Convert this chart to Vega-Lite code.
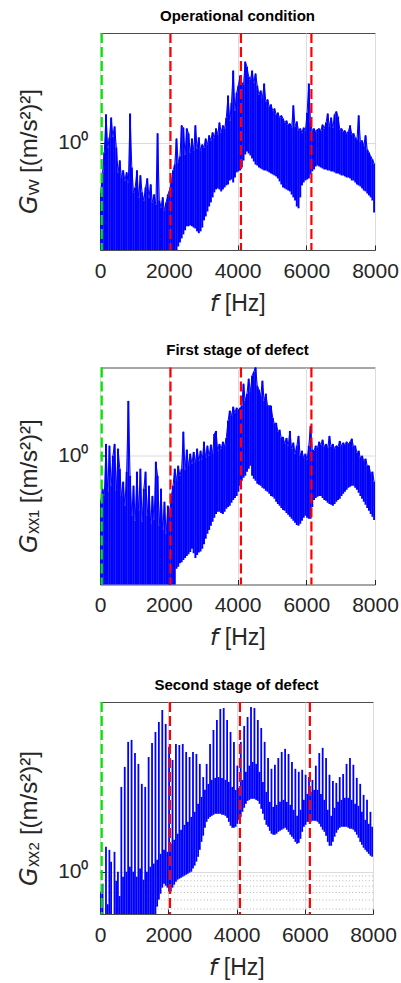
{
  "$schema": "https://vega.github.io/schema/vega-lite/v6.json",
  "background": "white",
  "padding": {"left": 16, "top": 8, "right": 0, "bottom": 0},
  "bounds": "flush",
  "spacing": 117.5,
  "config": {
    "font": "Liberation Sans",
    "view": {"stroke": "#4d4d4d", "strokeWidth": 1},
    "axis": {
      "labelFont": "Liberation Sans", "titleFont": "Liberation Sans",
      "labelFontSize": 21, "titleFontSize": 23, "titleFontWeight": "normal",
      "labelColor": "#262626", "titleColor": "#262626",
      "domain": false, "grid": true, "gridColor": "#dcdcdc", "gridWidth": 1,
      "tickColor": "#262626", "tickSize": -5, "labelPadding": 15,
      "labelFlush": false, "labelOverlap": false, "labelBound": false
    },
    "axisX": {"format": "d", "titleBaseline": "alphabetic", "titleY": 60},
    "axisY": {"titleFontSize": 24, "titleBaseline": "alphabetic", "titleAngle": -90, "titleAlign": "center", "titleX": -64},
    "title": {"font": "Liberation Sans", "fontSize": 15, "fontWeight": "bold", "color": "#000000", "frame": "group", "anchor": "middle", "offset": 8}
  },
  "datasets": {
    "spec": [
{"p":1,"f":25,"l":0.05,"h":0.294},{"p":1,"f":75,"l":0.05,"h":0.48},{"p":1,"f":125,"l":0.05,"h":0.783},{"p":1,"f":175,"l":0.05,"h":1.99},{"p":1,"f":225,"l":0.05,"h":0.885},{"p":1,"f":275,"l":0.05,"h":1.13},{"p":1,"f":325,"l":0.05,"h":1.84},{"p":1,"f":375,"l":0.05,"h":1.16},{"p":1,"f":425,"l":0.05,"h":1.48},{"p":1,"f":475,"l":0.05,"h":0.885},
{"p":1,"f":525,"l":0.05,"h":0.48},{"p":1,"f":575,"l":0.05,"h":0.643},{"p":1,"f":625,"l":0.05,"h":0.424},{"p":1,"f":675,"l":0.05,"h":0.504},{"p":1,"f":725,"l":0.05,"h":0.394},{"p":1,"f":775,"l":0.05,"h":0.48},{"p":1,"f":825,"l":0.05,"h":0.375},{"p":1,"f":875,"l":0.05,"h":2.03},{"p":1,"f":925,"l":0.05,"h":0.542},{"p":1,"f":975,"l":0.05,"h":0.294},
{"p":1,"f":1025,"l":0.05,"h":0.332},{"p":1,"f":1075,"l":0.05,"h":0.504},{"p":1,"f":1125,"l":0.05,"h":0.26},{"p":1,"f":1175,"l":0.05,"h":0.446},{"p":1,"f":1225,"l":0.05,"h":0.294},{"p":1,"f":1275,"l":0.05,"h":0.241},{"p":1,"f":1325,"l":0.05,"h":0.332},{"p":1,"f":1375,"l":0.05,"h":0.414},{"p":1,"f":1425,"l":0.05,"h":0.26},{"p":1,"f":1475,"l":0.05,"h":0.357},
{"p":1,"f":1525,"l":0.05,"h":0.23},{"p":1,"f":1575,"l":0.05,"h":0.279},{"p":1,"f":1625,"l":0.05,"h":0.219},{"p":1,"f":1675,"l":0.05,"h":1.25},{"p":1,"f":1725,"l":0.05,"h":0.241},{"p":1,"f":1775,"l":0.05,"h":0.204},{"p":1,"f":1825,"l":0.05,"h":0.26},{"p":1,"f":1875,"l":0.05,"h":0.189},{"p":1,"f":1925,"l":0.05,"h":0.23},{"p":1,"f":1975,"l":0.05,"h":0.279},
{"p":1,"f":2025,"l":0.05,"h":0.308},{"p":1,"f":2075,"l":0.05,"h":0.375},{"p":1,"f":2125,"l":0.05,"h":0.504},{"p":1,"f":2175,"l":0.05,"h":0.583},{"p":1,"f":2225,"l":0.05,"h":1.1},{"p":1,"f":2275,"l":0.078,"h":0.613},{"p":1,"f":2325,"l":0.086,"h":0.71},{"p":1,"f":2375,"l":0.095,"h":1.52},{"p":1,"f":2425,"l":0.105,"h":1.44},{"p":1,"f":2475,"l":0.116,"h":0.745},
{"p":1,"f":2525,"l":0.128,"h":1.41},{"p":1,"f":2575,"l":0.128,"h":1.25},{"p":1,"f":2625,"l":0.131,"h":0.783},{"p":1,"f":2675,"l":0.128,"h":1.1},{"p":1,"f":2725,"l":0.124,"h":0.822},{"p":1,"f":2775,"l":0.121,"h":1.52},{"p":1,"f":2825,"l":0.113,"h":0.863},{"p":1,"f":2875,"l":0.108,"h":1.13},{"p":1,"f":2925,"l":0.113,"h":0.822},{"p":1,"f":2975,"l":0.124,"h":0.952},
{"p":1,"f":3025,"l":0.148,"h":0.885},{"p":1,"f":3075,"l":0.163,"h":1.1},{"p":1,"f":3125,"l":0.184,"h":0.952},{"p":1,"f":3175,"l":0.208,"h":1.19},{"p":1,"f":3225,"l":0.23,"h":1.05},{"p":1,"f":3275,"l":0.26,"h":1.28},{"p":1,"f":3325,"l":0.294,"h":1.13},{"p":1,"f":3375,"l":0.316,"h":1.41},{"p":1,"f":3425,"l":0.324,"h":1.22},{"p":1,"f":3475,"l":0.316,"h":1.63},
{"p":1,"f":3525,"l":0.301,"h":1.28},{"p":1,"f":3575,"l":0.316,"h":1.52},{"p":1,"f":3625,"l":0.332,"h":1.41},{"p":1,"f":3675,"l":0.349,"h":1.84},{"p":1,"f":3725,"l":0.357,"h":3.16},{"p":1,"f":3775,"l":0.394,"h":1.71},{"p":1,"f":3825,"l":0.404,"h":2.66},{"p":1,"f":3875,"l":0.375,"h":5.83},{"p":1,"f":3925,"l":0.424,"h":2.19},{"p":1,"f":3975,"l":0.48,"h":3.4},
{"p":1,"f":4025,"l":0.492,"h":4.04},{"p":1,"f":4075,"l":0.504,"h":5.16},{"p":1,"f":4125,"l":0.542,"h":4.35},{"p":1,"f":4175,"l":0.643,"h":4.14},{"p":1,"f":4225,"l":0.745,"h":7.27},{"p":1,"f":4275,"l":0.802,"h":6.43},{"p":1,"f":4325,"l":0.764,"h":5.04},{"p":1,"f":4375,"l":0.727,"h":4.68},{"p":1,"f":4425,"l":0.676,"h":5.83},{"p":1,"f":4475,"l":0.628,"h":4.35},
{"p":1,"f":4525,"l":0.583,"h":5.42},{"p":1,"f":4575,"l":0.569,"h":4.04},{"p":1,"f":4625,"l":0.542,"h":3.24},{"p":1,"f":4675,"l":0.529,"h":3.57},{"p":1,"f":4725,"l":0.516,"h":3.01},{"p":1,"f":4775,"l":0.504,"h":4.24},{"p":1,"f":4825,"l":0.504,"h":2.73},{"p":1,"f":4875,"l":0.492,"h":2.87},{"p":1,"f":4925,"l":0.48,"h":2.42},{"p":1,"f":4975,"l":0.468,"h":2.54},
{"p":1,"f":5025,"l":0.457,"h":2.19},{"p":1,"f":5075,"l":0.446,"h":2.3},{"p":1,"f":5125,"l":0.435,"h":1.99},{"p":1,"f":5175,"l":0.414,"h":2.08},{"p":1,"f":5225,"l":0.385,"h":1.84},{"p":1,"f":5275,"l":0.357,"h":1.94},{"p":1,"f":5325,"l":0.332,"h":1.8},{"p":1,"f":5375,"l":0.324,"h":1.63},{"p":1,"f":5425,"l":0.316,"h":1.71},{"p":1,"f":5475,"l":0.308,"h":1.55},
{"p":1,"f":5525,"l":0.301,"h":1.59},{"p":1,"f":5575,"l":0.279,"h":1.44},{"p":1,"f":5625,"l":0.26,"h":2.48},{"p":1,"f":5675,"l":0.241,"h":1.48},{"p":1,"f":5725,"l":0.208,"h":1.67},{"p":1,"f":5775,"l":0.199,"h":1.34},{"p":1,"f":5825,"l":0.26,"h":1.41},{"p":1,"f":5875,"l":0.349,"h":1.28},{"p":1,"f":5925,"l":0.375,"h":1.44},{"p":1,"f":5975,"l":0.394,"h":1.34},
{"p":1,"f":6025,"l":0.404,"h":2.08},{"p":1,"f":6075,"l":0.414,"h":4.24},{"p":1,"f":6125,"l":0.457,"h":1.63},{"p":1,"f":6175,"l":0.492,"h":1.34},{"p":1,"f":6225,"l":0.516,"h":1.41},{"p":1,"f":6275,"l":0.555,"h":1.31},{"p":1,"f":6325,"l":0.569,"h":1.38},{"p":1,"f":6375,"l":0.555,"h":1.41},{"p":1,"f":6425,"l":0.542,"h":1.34},{"p":1,"f":6475,"l":0.529,"h":1.55},
{"p":1,"f":6525,"l":0.516,"h":1.41},{"p":1,"f":6575,"l":0.516,"h":1.63},{"p":1,"f":6625,"l":0.504,"h":2.03},{"p":1,"f":6675,"l":0.504,"h":1.48},{"p":1,"f":6725,"l":0.492,"h":1.84},{"p":1,"f":6775,"l":0.492,"h":1.44},{"p":1,"f":6825,"l":0.48,"h":1.99},{"p":1,"f":6875,"l":0.468,"h":2.14},{"p":1,"f":6925,"l":0.468,"h":1.89},{"p":1,"f":6975,"l":0.457,"h":1.38},
{"p":1,"f":7025,"l":0.446,"h":1.41},{"p":1,"f":7075,"l":0.446,"h":1.31},{"p":1,"f":7125,"l":0.435,"h":1.34},{"p":1,"f":7175,"l":0.424,"h":1.25},{"p":1,"f":7225,"l":0.424,"h":1.31},{"p":1,"f":7275,"l":0.414,"h":1.52},{"p":1,"f":7325,"l":0.394,"h":1.22},{"p":1,"f":7375,"l":0.394,"h":1.25},{"p":1,"f":7425,"l":0.375,"h":1.13},{"p":1,"f":7475,"l":0.357,"h":1.08},
{"p":1,"f":7525,"l":0.349,"h":1.94},{"p":1,"f":7575,"l":0.34,"h":1.02},{"p":1,"f":7625,"l":0.324,"h":1.05},{"p":1,"f":7675,"l":0.308,"h":0.929},{"p":1,"f":7725,"l":0.301,"h":1.19},{"p":1,"f":7775,"l":0.286,"h":0.842},{"p":1,"f":7825,"l":0.273,"h":0.783},{"p":1,"f":7875,"l":0.26,"h":0.71},{"p":1,"f":7925,"l":0.241,"h":0.66},{"p":1,"f":7975,"l":0.18,"h":0.598},
{"p":2,"f":25,"l":0.02,"h":0.332},{"p":2,"f":75,"l":0.02,"h":0.446},{"p":2,"f":125,"l":0.02,"h":0.375},{"p":2,"f":175,"l":0.02,"h":1.34},{"p":2,"f":225,"l":0.02,"h":0.414},{"p":2,"f":275,"l":0.02,"h":1.28},{"p":2,"f":325,"l":0.02,"h":0.48},{"p":2,"f":375,"l":0.02,"h":1.0},{"p":2,"f":425,"l":0.02,"h":1.34},{"p":2,"f":475,"l":0.02,"h":0.424},
{"p":2,"f":525,"l":0.02,"h":1.19},{"p":2,"f":575,"l":0.02,"h":0.727},{"p":2,"f":625,"l":0.02,"h":0.375},{"p":2,"f":675,"l":0.02,"h":0.529},{"p":2,"f":725,"l":0.02,"h":0.294},{"p":2,"f":775,"l":0.02,"h":0.676},{"p":2,"f":825,"l":0.02,"h":3.84},{"p":2,"f":875,"l":0.02,"h":0.613},{"p":2,"f":925,"l":0.02,"h":0.23},{"p":2,"f":975,"l":0.02,"h":0.48},
{"p":2,"f":1025,"l":0.02,"h":0.204},{"p":2,"f":1075,"l":0.02,"h":0.676},{"p":2,"f":1125,"l":0.02,"h":0.26},{"p":2,"f":1175,"l":0.02,"h":0.727},{"p":2,"f":1225,"l":0.02,"h":0.199},{"p":2,"f":1275,"l":0.02,"h":0.446},{"p":2,"f":1325,"l":0.02,"h":0.676},{"p":2,"f":1375,"l":0.02,"h":0.23},{"p":2,"f":1425,"l":0.02,"h":0.48},{"p":2,"f":1475,"l":0.02,"h":0.189},
{"p":2,"f":1525,"l":0.02,"h":0.375},{"p":2,"f":1575,"l":0.02,"h":0.208},{"p":2,"f":1625,"l":0.02,"h":0.863},{"p":2,"f":1675,"l":0.02,"h":0.613},{"p":2,"f":1725,"l":0.02,"h":0.18},{"p":2,"f":1775,"l":0.02,"h":0.446},{"p":2,"f":1825,"l":0.02,"h":0.163},{"p":2,"f":1875,"l":0.02,"h":0.324},{"p":2,"f":1925,"l":0.02,"h":0.148},{"p":2,"f":1975,"l":0.02,"h":0.294},
{"p":2,"f":2025,"l":0.02,"h":0.23},{"p":2,"f":2075,"l":0.02,"h":0.375},{"p":2,"f":2125,"l":0.02,"h":0.48},{"p":2,"f":2175,"l":0.02,"h":0.727},{"p":2,"f":2225,"l":0.063,"h":0.542},{"p":2,"f":2275,"l":0.066,"h":0.783},{"p":2,"f":2325,"l":0.072,"h":0.613},{"p":2,"f":2375,"l":0.074,"h":0.727},{"p":2,"f":2425,"l":0.078,"h":1.8},{"p":2,"f":2475,"l":0.082,"h":0.71},
{"p":2,"f":2525,"l":0.086,"h":1.16},{"p":2,"f":2575,"l":0.09,"h":0.783},{"p":2,"f":2625,"l":0.095,"h":1.05},{"p":2,"f":2675,"l":0.103,"h":0.822},{"p":2,"f":2725,"l":0.092,"h":1.1},{"p":2,"f":2775,"l":0.082,"h":0.842},{"p":2,"f":2825,"l":0.088,"h":1.19},{"p":2,"f":2875,"l":0.094,"h":0.885},{"p":2,"f":2925,"l":0.096,"h":1.13},{"p":2,"f":2975,"l":0.103,"h":0.907},
{"p":2,"f":3025,"l":0.115,"h":1.41},{"p":2,"f":3075,"l":0.131,"h":0.952},{"p":2,"f":3125,"l":0.148,"h":1.28},{"p":2,"f":3175,"l":0.163,"h":1.0},{"p":2,"f":3225,"l":0.18,"h":1.31},{"p":2,"f":3275,"l":0.199,"h":1.05},{"p":2,"f":3325,"l":0.219,"h":1.71},{"p":2,"f":3375,"l":0.241,"h":1.84},{"p":2,"f":3425,"l":0.254,"h":1.13},{"p":2,"f":3475,"l":0.254,"h":1.34},
{"p":2,"f":3525,"l":0.246,"h":1.19},{"p":2,"f":3575,"l":0.241,"h":1.41},{"p":2,"f":3625,"l":0.254,"h":1.28},{"p":2,"f":3675,"l":0.273,"h":1.55},{"p":2,"f":3725,"l":0.286,"h":2.36},{"p":2,"f":3775,"l":0.294,"h":3.01},{"p":2,"f":3825,"l":0.316,"h":2.66},{"p":2,"f":3875,"l":0.34,"h":3.32},{"p":2,"f":3925,"l":0.357,"h":2.87},{"p":2,"f":3975,"l":0.375,"h":3.24},
{"p":2,"f":4025,"l":0.414,"h":3.09},{"p":2,"f":4075,"l":0.48,"h":3.24},{"p":2,"f":4125,"l":0.542,"h":3.4},{"p":2,"f":4175,"l":0.583,"h":5.83},{"p":2,"f":4225,"l":0.613,"h":3.84},{"p":2,"f":4275,"l":0.676,"h":4.57},{"p":2,"f":4325,"l":0.727,"h":6.59},{"p":2,"f":4375,"l":0.783,"h":4.8},{"p":2,"f":4425,"l":0.613,"h":7.09},{"p":2,"f":4475,"l":0.569,"h":7.82},
{"p":2,"f":4525,"l":0.542,"h":8.84},{"p":2,"f":4575,"l":0.504,"h":5.55},{"p":2,"f":4625,"l":0.492,"h":5.04},{"p":2,"f":4675,"l":0.48,"h":4.35},{"p":2,"f":4725,"l":0.457,"h":6.27},{"p":2,"f":4775,"l":0.446,"h":3.84},{"p":2,"f":4825,"l":0.424,"h":4.57},{"p":2,"f":4875,"l":0.414,"h":3.4},{"p":2,"f":4925,"l":0.394,"h":3.4},{"p":2,"f":4975,"l":0.375,"h":3.4},
{"p":2,"f":5025,"l":0.366,"h":2.54},{"p":2,"f":5075,"l":0.349,"h":2.19},{"p":2,"f":5125,"l":0.324,"h":2.24},{"p":2,"f":5175,"l":0.308,"h":1.8},{"p":2,"f":5225,"l":0.294,"h":1.89},{"p":2,"f":5275,"l":0.279,"h":1.55},{"p":2,"f":5325,"l":0.266,"h":1.59},{"p":2,"f":5375,"l":0.26,"h":1.34},{"p":2,"f":5425,"l":0.246,"h":1.55},{"p":2,"f":5475,"l":0.236,"h":1.28},
{"p":2,"f":5525,"l":0.225,"h":1.84},{"p":2,"f":5575,"l":0.214,"h":1.19},{"p":2,"f":5625,"l":0.204,"h":1.38},{"p":2,"f":5675,"l":0.194,"h":1.05},{"p":2,"f":5725,"l":0.184,"h":1.28},{"p":2,"f":5775,"l":0.18,"h":1.63},{"p":2,"f":5825,"l":0.189,"h":1.0},{"p":2,"f":5875,"l":0.204,"h":1.13},{"p":2,"f":5925,"l":0.219,"h":0.952},{"p":2,"f":5975,"l":0.23,"h":1.05},
{"p":2,"f":6025,"l":0.219,"h":0.907},{"p":2,"f":6075,"l":0.214,"h":1.28},{"p":2,"f":6125,"l":0.214,"h":2.08},{"p":2,"f":6175,"l":0.286,"h":1.16},{"p":2,"f":6225,"l":0.34,"h":1.13},{"p":2,"f":6275,"l":0.357,"h":1.28},{"p":2,"f":6325,"l":0.366,"h":1.22},{"p":2,"f":6375,"l":0.375,"h":1.41},{"p":2,"f":6425,"l":0.375,"h":1.31},{"p":2,"f":6475,"l":0.357,"h":1.48},
{"p":2,"f":6525,"l":0.34,"h":1.25},{"p":2,"f":6575,"l":0.332,"h":1.34},{"p":2,"f":6625,"l":0.316,"h":1.22},{"p":2,"f":6675,"l":0.308,"h":1.63},{"p":2,"f":6725,"l":0.301,"h":1.25},{"p":2,"f":6775,"l":0.294,"h":1.34},{"p":2,"f":6825,"l":0.308,"h":1.19},{"p":2,"f":6875,"l":0.324,"h":1.28},{"p":2,"f":6925,"l":0.34,"h":1.25},{"p":2,"f":6975,"l":0.349,"h":1.44},
{"p":2,"f":7025,"l":0.375,"h":1.28},{"p":2,"f":7075,"l":0.394,"h":1.38},{"p":2,"f":7125,"l":0.414,"h":1.31},{"p":2,"f":7175,"l":0.435,"h":1.41},{"p":2,"f":7225,"l":0.457,"h":1.34},{"p":2,"f":7275,"l":0.468,"h":1.41},{"p":2,"f":7325,"l":0.48,"h":1.52},{"p":2,"f":7375,"l":0.48,"h":1.25},{"p":2,"f":7425,"l":0.457,"h":1.28},{"p":2,"f":7475,"l":0.435,"h":1.08},
{"p":2,"f":7525,"l":0.404,"h":1.13},{"p":2,"f":7575,"l":0.375,"h":0.952},{"p":2,"f":7625,"l":0.349,"h":1.0},{"p":2,"f":7675,"l":0.324,"h":0.885},{"p":2,"f":7725,"l":0.301,"h":0.929},{"p":2,"f":7775,"l":0.279,"h":0.783},{"p":2,"f":7825,"l":0.26,"h":0.783},{"p":2,"f":7875,"l":0.241,"h":0.643},{"p":2,"f":7925,"l":0.225,"h":0.676},{"p":2,"f":7975,"l":0.208,"h":0.529},
{"p":3,"f":25,"l":0.2,"h":0.613},{"p":3,"f":75,"l":0.2,"h":0.745},{"p":3,"f":125,"l":0.2,"h":0.3},{"p":3,"f":175,"l":0.2,"h":1.84},{"p":3,"f":225,"l":0.2,"h":0.45},{"p":3,"f":275,"l":0.2,"h":1.71},{"p":3,"f":325,"l":0.2,"h":1.28},{"p":3,"f":375,"l":0.2,"h":0.3},{"p":3,"f":425,"l":0.2,"h":1.63},{"p":3,"f":475,"l":0.2,"h":0.8},
{"p":3,"f":525,"l":0.2,"h":1.0},{"p":3,"f":575,"l":0.2,"h":0.55},{"p":3,"f":625,"l":0.2,"h":8.01},{"p":3,"f":675,"l":0.2,"h":0.885},{"p":3,"f":725,"l":0.2,"h":13.1},{"p":3,"f":775,"l":0.2,"h":1.0},{"p":3,"f":825,"l":0.2,"h":24.2},{"p":3,"f":875,"l":0.2,"h":1.13},{"p":3,"f":925,"l":0.2,"h":25.4},{"p":3,"f":975,"l":0.2,"h":1.0},
{"p":3,"f":1025,"l":0.2,"h":18.4},{"p":3,"f":1075,"l":0.2,"h":0.885},{"p":3,"f":1125,"l":0.2,"h":14.1},{"p":3,"f":1175,"l":0.2,"h":1.08},{"p":3,"f":1225,"l":0.2,"h":8.63},{"p":3,"f":1275,"l":0.2,"h":0.822},{"p":3,"f":1325,"l":0.2,"h":8.01},{"p":3,"f":1375,"l":0.2,"h":1.0},{"p":3,"f":1425,"l":0.2,"h":16.7},{"p":3,"f":1475,"l":0.2,"h":1.13},
{"p":3,"f":1525,"l":0.2,"h":23.6},{"p":3,"f":1575,"l":0.2,"h":1.22},{"p":3,"f":1625,"l":0.2,"h":30.9},{"p":3,"f":1675,"l":0.424,"h":1.34},{"p":3,"f":1725,"l":0.504,"h":39.4},{"p":3,"f":1775,"l":0.583,"h":1.55},{"p":3,"f":1825,"l":0.676,"h":52.9},{"p":3,"f":1875,"l":0.745,"h":1.71},{"p":3,"f":1925,"l":0.709,"h":37.6},{"p":3,"f":1975,"l":0.676,"h":1.63},
{"p":3,"f":2025,"l":0.613,"h":21.4},{"p":3,"f":2075,"l":0.613,"h":1.99},{"p":3,"f":2125,"l":0.676,"h":15.5},{"p":3,"f":2175,"l":0.727,"h":2.19},{"p":3,"f":2225,"l":0.783,"h":23.0},{"p":3,"f":2275,"l":0.822,"h":2.54},{"p":3,"f":2325,"l":0.842,"h":22.4},{"p":3,"f":2375,"l":0.863,"h":2.8},{"p":3,"f":2425,"l":0.885,"h":23.0},{"p":3,"f":2475,"l":0.907,"h":3.16},
{"p":3,"f":2525,"l":0.929,"h":18.9},{"p":3,"f":2575,"l":0.952,"h":3.4},{"p":3,"f":2625,"l":0.976,"h":16.7},{"p":3,"f":2675,"l":1.0,"h":3.84},{"p":3,"f":2725,"l":1.08,"h":18.9},{"p":3,"f":2775,"l":1.16,"h":4.35},{"p":3,"f":2825,"l":1.28,"h":18.0},{"p":3,"f":2875,"l":1.44,"h":5.29},{"p":3,"f":2925,"l":1.71,"h":14.1},{"p":3,"f":2975,"l":2.08,"h":6.27},
{"p":3,"f":3025,"l":2.42,"h":10.2},{"p":3,"f":3075,"l":2.94,"h":7.45},{"p":3,"f":3125,"l":3.4,"h":14.1},{"p":3,"f":3175,"l":3.66,"h":8.63},{"p":3,"f":3225,"l":3.84,"h":23.0},{"p":3,"f":3275,"l":3.94,"h":9.52},{"p":3,"f":3325,"l":4.04,"h":32.4},{"p":3,"f":3375,"l":4.14,"h":10.0},{"p":3,"f":3425,"l":4.14,"h":41.4},{"p":3,"f":3475,"l":4.14,"h":10.2},
{"p":3,"f":3525,"l":4.14,"h":54.2},{"p":3,"f":3575,"l":4.04,"h":10.0},{"p":3,"f":3625,"l":4.04,"h":55.5},{"p":3,"f":3675,"l":3.94,"h":9.52},{"p":3,"f":3725,"l":3.75,"h":41.4},{"p":3,"f":3775,"l":3.4,"h":9.06},{"p":3,"f":3825,"l":3.09,"h":30.9},{"p":3,"f":3875,"l":2.94,"h":8.01},{"p":3,"f":3925,"l":2.94,"h":24.2},{"p":3,"f":3975,"l":3.01,"h":7.45},
{"p":3,"f":4025,"l":3.24,"h":13.5},{"p":3,"f":4075,"l":3.57,"h":7.82},{"p":3,"f":4125,"l":3.84,"h":24.2},{"p":3,"f":4175,"l":4.35,"h":9.52},{"p":3,"f":4225,"l":4.8,"h":35.8},{"p":3,"f":4275,"l":5.29,"h":11.6},{"p":3,"f":4325,"l":5.69,"h":44.6},{"p":3,"f":4375,"l":5.83,"h":13.5},{"p":3,"f":4425,"l":5.98,"h":56.9},{"p":3,"f":4475,"l":5.98,"h":14.8},
{"p":3,"f":4525,"l":5.98,"h":55.5},{"p":3,"f":4575,"l":5.83,"h":14.1},{"p":3,"f":4625,"l":5.69,"h":41.4},{"p":3,"f":4675,"l":5.29,"h":11.6},{"p":3,"f":4725,"l":4.68,"h":34.0},{"p":3,"f":4775,"l":4.14,"h":9.06},{"p":3,"f":4825,"l":3.57,"h":24.2},{"p":3,"f":4875,"l":3.16,"h":7.09},{"p":3,"f":4925,"l":3.01,"h":16.3},{"p":3,"f":4975,"l":2.73,"h":5.55},
{"p":3,"f":5025,"l":2.54,"h":12.5},{"p":3,"f":5075,"l":2.48,"h":4.91},{"p":3,"f":5125,"l":2.48,"h":13.8},{"p":3,"f":5175,"l":2.54,"h":5.16},{"p":3,"f":5225,"l":2.66,"h":16.3},{"p":3,"f":5275,"l":2.73,"h":5.55},{"p":3,"f":5325,"l":2.8,"h":18.9},{"p":3,"f":5375,"l":2.87,"h":5.83},{"p":3,"f":5425,"l":2.94,"h":20.4},{"p":3,"f":5475,"l":2.8,"h":5.55},
{"p":3,"f":5525,"l":2.66,"h":18.0},{"p":3,"f":5575,"l":2.48,"h":5.16},{"p":3,"f":5625,"l":2.36,"h":14.8},{"p":3,"f":5675,"l":2.24,"h":4.57},{"p":3,"f":5725,"l":2.08,"h":12.5},{"p":3,"f":5775,"l":1.99,"h":3.94},{"p":3,"f":5825,"l":2.03,"h":11.6},{"p":3,"f":5875,"l":2.24,"h":4.57},{"p":3,"f":5925,"l":2.66,"h":12.2},{"p":3,"f":5975,"l":3.01,"h":5.83},
{"p":3,"f":6025,"l":3.16,"h":10.8},{"p":3,"f":6075,"l":3.4,"h":6.75},{"p":3,"f":6125,"l":3.4,"h":10.2},{"p":3,"f":6175,"l":3.4,"h":7.09},{"p":3,"f":6225,"l":3.49,"h":9.52},{"p":3,"f":6275,"l":3.49,"h":7.45},{"p":3,"f":6325,"l":3.49,"h":13.5},{"p":3,"f":6375,"l":3.4,"h":7.45},{"p":3,"f":6425,"l":3.24,"h":18.4},{"p":3,"f":6475,"l":3.01,"h":6.75},
{"p":3,"f":6525,"l":2.8,"h":20.9},{"p":3,"f":6575,"l":2.66,"h":5.83},{"p":3,"f":6625,"l":2.42,"h":16.3},{"p":3,"f":6675,"l":2.08,"h":4.57},{"p":3,"f":6725,"l":1.89,"h":10.8},{"p":3,"f":6775,"l":1.89,"h":3.94},{"p":3,"f":6825,"l":2.08,"h":9.29},{"p":3,"f":6875,"l":2.36,"h":4.8},{"p":3,"f":6925,"l":2.6,"h":8.84},{"p":3,"f":6975,"l":2.8,"h":5.55},
{"p":3,"f":7025,"l":2.94,"h":10.2},{"p":3,"f":7075,"l":3.01,"h":5.83},{"p":3,"f":7125,"l":3.01,"h":11.0},{"p":3,"f":7175,"l":3.01,"h":6.13},{"p":3,"f":7225,"l":3.01,"h":14.1},{"p":3,"f":7275,"l":2.94,"h":6.13},{"p":3,"f":7325,"l":2.87,"h":16.3},{"p":3,"f":7375,"l":2.87,"h":5.83},{"p":3,"f":7425,"l":2.8,"h":13.8},{"p":3,"f":7475,"l":2.66,"h":5.29},
{"p":3,"f":7525,"l":2.48,"h":10.0},{"p":3,"f":7575,"l":2.3,"h":5.04},{"p":3,"f":7625,"l":2.08,"h":8.63},{"p":3,"f":7675,"l":1.94,"h":4.35},{"p":3,"f":7725,"l":1.8,"h":6.59},{"p":3,"f":7775,"l":1.71,"h":3.57},{"p":3,"f":7825,"l":1.63,"h":5.83},{"p":3,"f":7875,"l":1.55,"h":3.24},{"p":3,"f":7925,"l":1.48,"h":4.35},{"p":3,"f":7975,"l":1.44,"h":3.01}
    ],
    "red": [{"f": 2050}, {"f": 4100}, {"f": 6150}],
    "green": [{"f": 50}],
    "minor": [{"v": 0.4}, {"v": 0.5}, {"v": 0.6}, {"v": 0.7}, {"v": 0.8}, {"v": 0.9}]
  },
  "vconcat": [
    {
      "title": {"text": "Operational condition"},
      "width": 275, "height": 217,
      "layer": [
        {
          "data": {"name": "spec"},
          "transform": [{"filter": "datum.p == 1"}],
          "mark": {"type": "rule", "color": "#0000ff", "strokeWidth": 2, "clip": true},
          "encoding": {
            "x": {"field": "f", "type": "quantitative", "scale": {"domain": [0, 8000], "nice": false, "zero": false},
                  "axis": {"values": [0, 2000, 4000, 6000, 8000], "title": "𝘧 [Hz]"}},
            "y": {"field": "l", "type": "quantitative", "scale": {"type": "log", "domain": [0.0715, 14.7], "nice": false},
                  "axis": {"values": [1], "labelExpr": "'10⁰'", "labelPadding": 17, "title": "𝘎ᵥᵥ [(m/s²)²]", "titleY": 118}},
            "y2": {"field": "h"}
          }
        },
        {
          "data": {"name": "spec"},
          "transform": [{"filter": "datum.p == 1"}],
          "mark": {"type": "line", "color": "#0000ff", "strokeWidth": 1, "clip": true},
          "encoding": {"x": {"field": "f", "type": "quantitative"}, "y": {"field": "h", "type": "quantitative"}}
        },
        {"data": {"name": "red"}, "mark": {"type": "rule", "color": "#ff0000", "strokeWidth": 2.2, "strokeDash": [10, 4]}, "encoding": {"x": {"field": "f", "type": "quantitative"}}},
        {"data": {"name": "green"}, "mark": {"type": "rule", "color": "#00e600", "strokeWidth": 2.2, "strokeDash": [10, 4]}, "encoding": {"x": {"field": "f", "type": "quantitative"}}}
      ]
    },
    {
      "title": {"text": "First stage of defect"},
      "width": 275, "height": 217,
      "layer": [
        {
          "data": {"name": "spec"},
          "transform": [{"filter": "datum.p == 2"}],
          "mark": {"type": "rule", "color": "#0000ff", "strokeWidth": 2, "clip": true},
          "encoding": {
            "x": {"field": "f", "type": "quantitative", "scale": {"domain": [0, 8000], "nice": false, "zero": false},
                  "axis": {"values": [0, 2000, 4000, 6000, 8000], "title": "𝘧 [Hz]"}},
            "y": {"field": "l", "type": "quantitative", "scale": {"type": "log", "domain": [0.0428, 8.7], "nice": false},
                  "axis": {"values": [1], "labelExpr": "'10⁰'", "labelPadding": 17, "title": "𝘎ₓₓ₁ [(m/s²)²]", "titleY": 118}},
            "y2": {"field": "h"}
          }
        },
        {
          "data": {"name": "spec"},
          "transform": [{"filter": "datum.p == 2"}],
          "mark": {"type": "line", "color": "#0000ff", "strokeWidth": 1, "clip": true},
          "encoding": {"x": {"field": "f", "type": "quantitative"}, "y": {"field": "h", "type": "quantitative"}}
        },
        {"data": {"name": "red"}, "mark": {"type": "rule", "color": "#ff0000", "strokeWidth": 2.2, "strokeDash": [10, 4]}, "encoding": {"x": {"field": "f", "type": "quantitative"}}},
        {"data": {"name": "green"}, "mark": {"type": "rule", "color": "#00e600", "strokeWidth": 2.2, "strokeDash": [10, 4]}, "encoding": {"x": {"field": "f", "type": "quantitative"}}}
      ]
    },
    {
      "title": {"text": "Second stage of defect"},
      "width": 273, "height": 212,
      "layer": [
        {"data": {"name": "minor"}, "mark": {"type": "rule", "color": "#b4b4b4", "strokeWidth": 1, "strokeDash": [1, 2.3]}, "encoding": {"y": {"field": "v", "type": "quantitative"}}},
        {
          "data": {"name": "spec"},
          "transform": [{"filter": "datum.p == 3"}],
          "mark": {"type": "rule", "color": "#0000ff", "strokeWidth": 1.8, "clip": true},
          "encoding": {
            "x": {"field": "f", "type": "quantitative", "scale": {"domain": [0, 8000], "nice": false, "zero": false},
                  "axis": {"values": [0, 2000, 4000, 6000, 8000], "title": "𝘧 [Hz]"}},
            "y": {"field": "l", "type": "quantitative", "scale": {"type": "log", "domain": [0.354, 64.4], "nice": false},
                  "axis": {"values": [1], "labelExpr": "'10⁰'", "labelPadding": 17, "title": "𝘎ₓₓ₂ [(m/s²)²]", "titleY": 116}},
            "y2": {"field": "h"}
          }
        },
        {"data": {"name": "red"}, "mark": {"type": "rule", "color": "#ff0000", "strokeWidth": 2.2, "strokeDash": [10, 4]}, "encoding": {"x": {"field": "f", "type": "quantitative"}}},
        {"data": {"name": "green"}, "mark": {"type": "rule", "color": "#00e600", "strokeWidth": 2.2, "strokeDash": [10, 4]}, "encoding": {"x": {"field": "f", "type": "quantitative"}}}
      ]
    }
  ]
}
